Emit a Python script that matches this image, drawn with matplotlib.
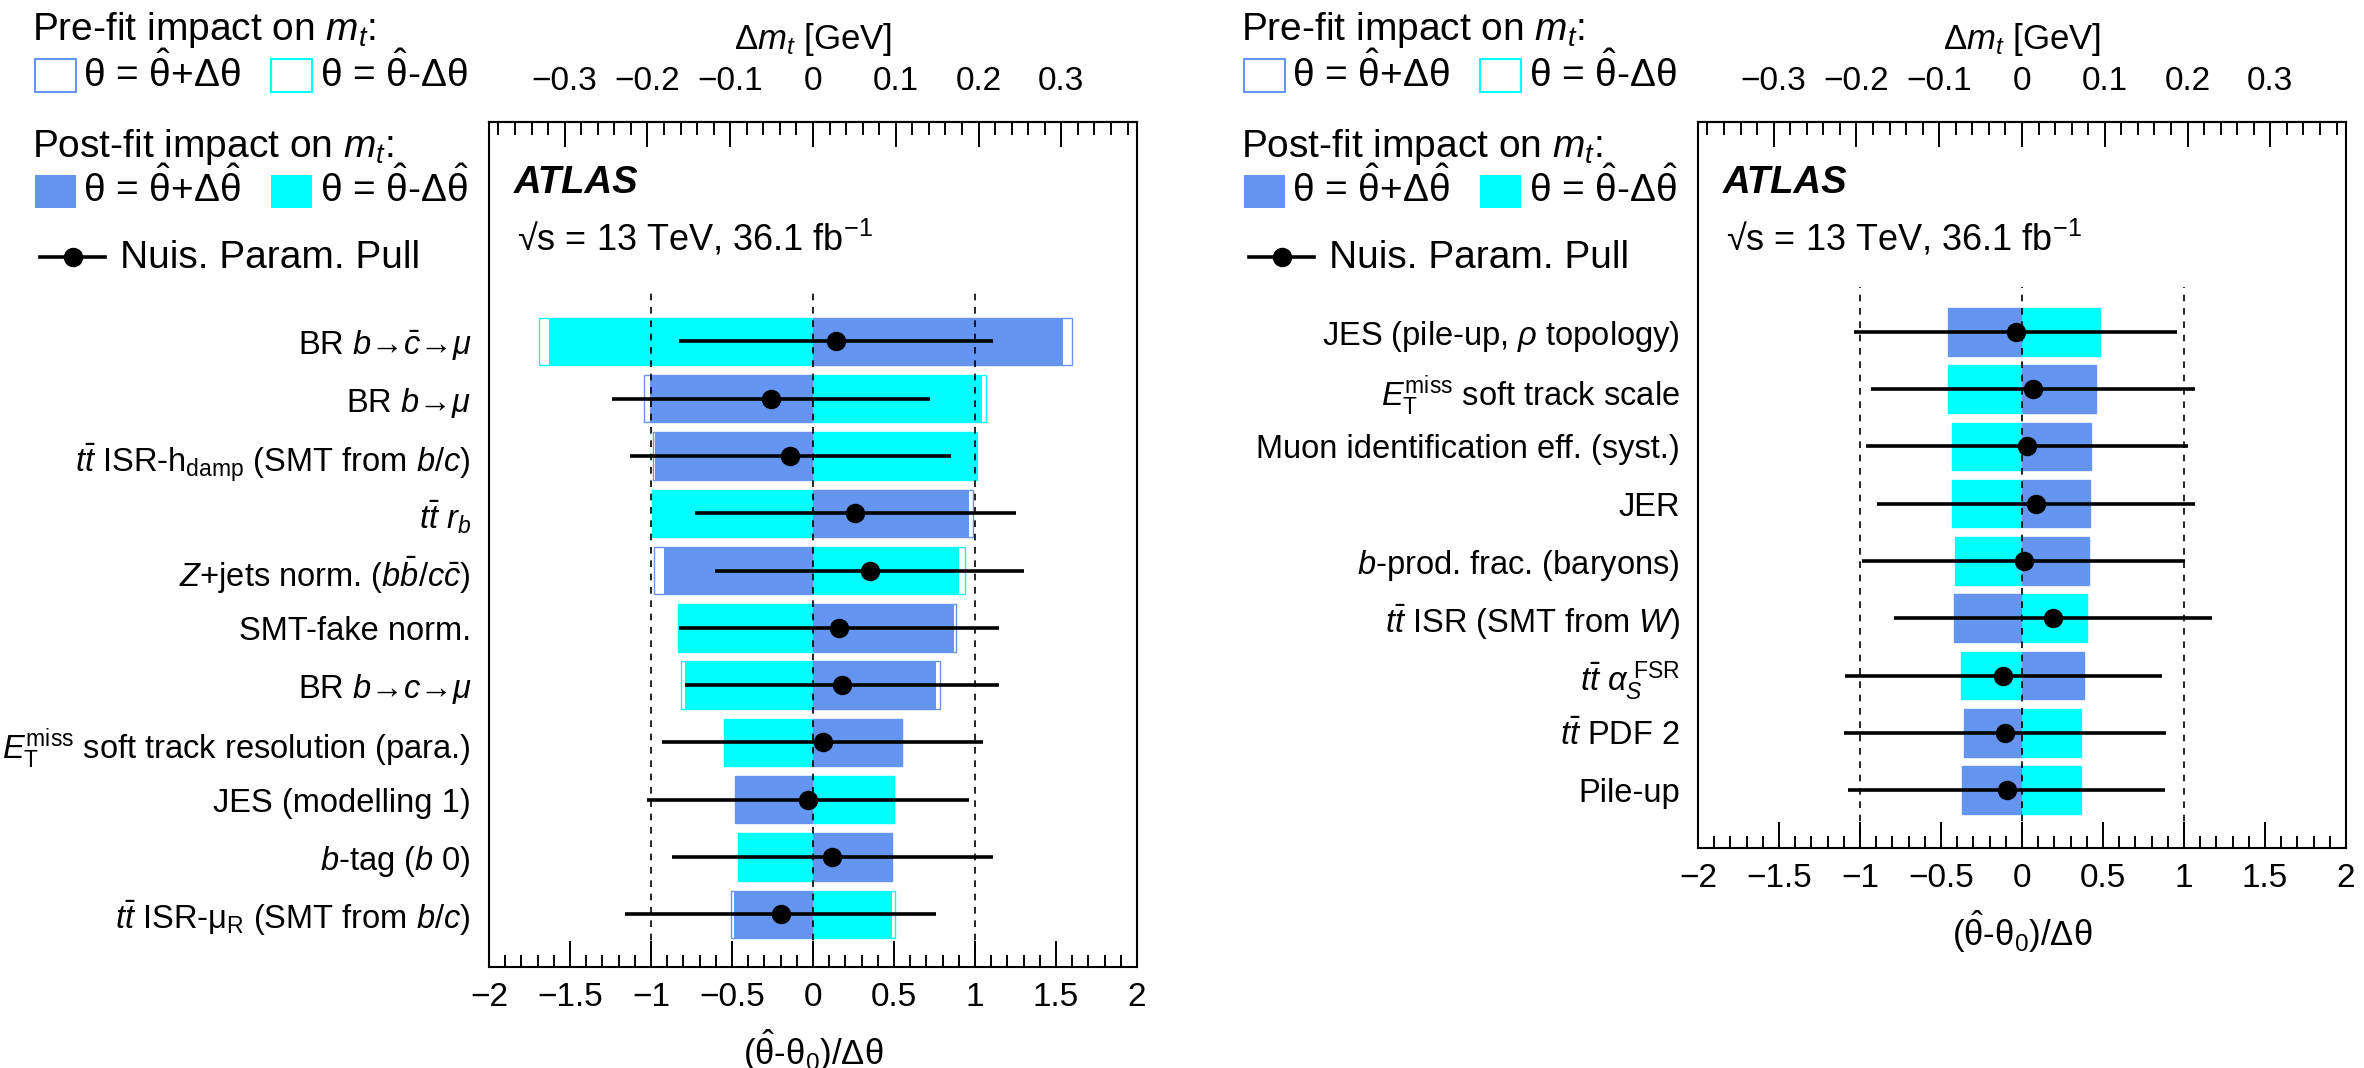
import numpy as np
import matplotlib
matplotlib.use('Agg')
import matplotlib.pyplot as plt
from matplotlib.patches import Rectangle
from matplotlib.ticker import MultipleLocator, FuncFormatter

plt.rcParams['font.family'] = ['Liberation Sans', 'DejaVu Sans']
plt.rcParams['mathtext.fontset'] = 'custom'
plt.rcParams['mathtext.rm'] = 'Liberation Sans'
plt.rcParams['mathtext.it'] = 'Liberation Sans:italic'
plt.rcParams['mathtext.bf'] = 'Liberation Sans:bold'
plt.rcParams['mathtext.sf'] = 'Liberation Sans'

BLUE = '#6495f0'
CYAN = '#00ffff'
GEV_PER_UNIT = 0.1957   # top axis (Delta m_t) vs bottom axis (pull)

# ---- left panel data (top to bottom) ----
L_LABELS = [
    r'BR $b$→$\bar{c}$→$\mu$',
    r'BR $b$→$\mu$',
    r'$t\bar{t}$ ISR-h$_{\mathrm{damp}}$ (SMT from $b/c$)',
    r'$t\bar{t}$ $r_b$',
    r'$Z$+jets norm. ($b\bar{b}/c\bar{c}$)',
    'SMT-fake norm.',
    r'BR $b$→$c$→$\mu$',
    r'$E_{\mathrm{T}}^{\mathrm{miss}}$ soft track resolution (para.)',
    'JES (modelling 1)',
    r'$b$-tag ($b$ 0)',
    r'$t\bar{t}$ ISR-μ$_{\mathrm{R}}$ (SMT from $b/c$)',
]
L_PULL = [0.14, -0.26, -0.14, 0.26, 0.35, 0.16, 0.18, 0.06, -0.03, 0.12, -0.20]
L_ERR = [0.97, 0.98, 0.99, 0.99, 0.955, 0.99, 0.97, 0.99, 0.995, 0.99, 0.96]
# impacts on m_t in GeV
L_POST_UP = [0.302, -0.197, -0.191, 0.189, -0.180, 0.170, 0.149, 0.108, -0.094, 0.096, -0.095]
L_POST_DN = [-0.319, 0.204, 0.198, -0.194, 0.176, -0.163, -0.155, -0.108, 0.098, -0.091, 0.095]
L_PRE_UP = [0.313, -0.204, -0.193, 0.193, -0.192, 0.173, 0.153, 0.108, -0.094, 0.096, -0.099]
L_PRE_DN = [-0.331, 0.209, 0.198, -0.194, 0.184, -0.163, -0.160, -0.108, 0.098, -0.091, 0.099]

# ---- right panel data (top to bottom) ----
R_LABELS = [
    r'JES (pile-up, $\rho$ topology)',
    r'$E_{\mathrm{T}}^{\mathrm{miss}}$ soft track scale',
    'Muon identification eff. (syst.)',
    'JER',
    r'$b$-prod. frac. (baryons)',
    r'$t\bar{t}$ ISR (SMT from $W$)',
    r'$t\bar{t}$ $\alpha_S^{\ \mathrm{FSR}}$',
    r'$t\bar{t}$ PDF 2',
    'Pile-up',
]
R_PULL = [-0.04, 0.07, 0.03, 0.085, 0.01, 0.19, -0.115, -0.105, -0.095]
R_ERR = [0.995, 1.0, 0.995, 0.98, 0.995, 0.98, 0.98, 0.995, 0.98]
R_POST_UP = [-0.089, 0.089, 0.083, 0.082, 0.081, -0.082, 0.075, -0.070, -0.072]
R_POST_DN = [0.094, -0.089, -0.084, -0.085, -0.081, 0.079, -0.074, 0.071, 0.071]
R_PRE_UP = R_POST_UP
R_PRE_DN = R_POST_DN

W, H = 2364, 1068
fig = plt.figure(figsize=(W / 100, H / 100), dpi=100)


def fmt(v, pos):
    if abs(v) < 1e-9:
        return '0'
    return ('%g' % round(v, 3)).replace('-', '\u2212')


def draw_panel(left_px, top_px, bottom_px, labels, post_up, post_dn, pre_up, pre_dn,
               pulls, errs, ylim):
    ax = fig.add_axes([left_px / W, (H - bottom_px) / H, 648 / W, (bottom_px - top_px) / H])
    n = len(labels)
    y = np.arange(n)[::-1]
    to_u = lambda g: np.asarray(g) / GEV_PER_UNIT
    bh = 0.83
    ax.barh(y, to_u(pre_up), height=bh, color='white', edgecolor=BLUE, lw=1.0, zorder=1)
    ax.barh(y, to_u(pre_dn), height=bh, color='white', edgecolor=CYAN, lw=1.0, zorder=1)
    ax.barh(y, to_u(post_up), height=bh, color=BLUE, lw=0, zorder=2)
    ax.barh(y, to_u(post_dn), height=bh, color=CYAN, lw=0, zorder=2)
    ax.vlines([-1, 0, 1], ylim[0], ylim[1] - 2.88, colors='k',
              linestyles=(0, (4, 4)), lw=1.2, zorder=3)
    ax.errorbar(pulls, y, xerr=errs, fmt='o', color='k', ms=13,
                elinewidth=2.6, capsize=0, zorder=4)
    ax.set_xlim(-2, 2)
    ax.set_ylim(*ylim)

    ax.set_yticks(y)
    ax.set_yticklabels(labels, fontsize=23.5)
    ax.tick_params(axis='y', length=0, pad=13)

    ax.xaxis.set_major_locator(MultipleLocator(0.5))
    ax.xaxis.set_minor_locator(MultipleLocator(0.1))
    ax.xaxis.set_major_formatter(FuncFormatter(fmt))
    ax.tick_params(axis='x', which='both', direction='in', top=False, width=1.4,
                   labelsize=24, pad=11)
    ax.tick_params(axis='x', which='major', length=18.7)
    ax.tick_params(axis='x', which='minor', length=9)
    ax.set_xlabel(r'($\hat{\mathrm{\theta}}$-$\mathrm{\theta}_0$)/$\Delta\mathrm{\theta}$',
                  fontsize=25, labelpad=10)

    sec = ax.secondary_xaxis('top', functions=(lambda u: u * GEV_PER_UNIT,
                                                lambda g: g / GEV_PER_UNIT))
    sec.xaxis.set_major_locator(MultipleLocator(0.1))
    sec.xaxis.set_minor_locator(MultipleLocator(0.02))
    sec.xaxis.set_major_formatter(FuncFormatter(fmt))
    sec.tick_params(which='both', direction='in', width=1.4, labelsize=24, pad=18)
    sec.tick_params(which='major', length=18)
    sec.tick_params(which='minor', length=9.4)
    sec.set_xlabel(r'$\Delta m_t$ [GeV]', fontsize=25, labelpad=12)
    sec.spines['top'].set_linewidth(1.5)

    for s in ax.spines.values():
        s.set_linewidth(1.5)

    ax.annotate('ATLAS', xy=(0, 1), xycoords='axes fraction', xytext=(17.6, -44),
                textcoords='offset points', fontsize=27.5, fontweight='bold',
                fontstyle='italic', va='center')
    ax.annotate(r'√s = 13 TeV, 36.1 fb$^{-1}$', xy=(0, 1), xycoords='axes fraction',
                xytext=(20.5, -83.5), textcoords='offset points', fontsize=26,
                va='center')
    return ax


draw_panel(489, 122, 967, L_LABELS, L_POST_UP, L_POST_DN, L_PRE_UP, L_PRE_DN,
           L_PULL, L_ERR, (-0.92, 13.83))
draw_panel(1698, 122, 848, R_LABELS, R_POST_UP, R_POST_DN, R_PRE_UP, R_PRE_DN,
           R_PULL, R_ERR, (-1.01, 11.66))

# legend block, drawn in figure pixel coordinates
ov = fig.add_axes([0, 0, 1, 1])
ov.set_xlim(0, W)
ov.set_ylim(H, 0)
ov.axis('off')


def draw_key(x0):
    fs = 28
    ov.text(x0 + 32, 40, r'Pre-fit impact on $m_t$:', fontsize=fs, va='baseline')
    ov.add_patch(Rectangle((x0 + 35, 59), 41, 33, facecolor='white', edgecolor=BLUE, lw=1.5))
    ov.text(x0 + 83, 87, r'θ = $\hat{\mathrm{\theta}}$+Δθ', fontsize=fs, va='baseline')
    ov.add_patch(Rectangle((x0 + 271, 59), 41, 33, facecolor='white', edgecolor=CYAN, lw=1.5))
    ov.text(x0 + 320, 87, r'θ = $\hat{\mathrm{\theta}}$-Δθ', fontsize=fs, va='baseline')

    ov.text(x0 + 32, 157, r'Post-fit impact on $m_t$:', fontsize=fs, va='baseline')
    ov.add_patch(Rectangle((x0 + 35, 175), 41, 33, facecolor=BLUE, edgecolor='none'))
    ov.text(x0 + 83, 202, r'θ = $\hat{\mathrm{\theta}}$+Δ$\hat{\mathrm{\theta}}$',
            fontsize=fs, va='baseline')
    ov.add_patch(Rectangle((x0 + 271, 175), 41, 33, facecolor=CYAN, edgecolor='none'))
    ov.text(x0 + 320, 202, r'θ = $\hat{\mathrm{\theta}}$-Δ$\hat{\mathrm{\theta}}$',
            fontsize=fs, va='baseline')

    ov.plot([x0 + 40, x0 + 105], [257, 257], color='k', lw=2.6)
    ov.plot([x0 + 73], [257], 'o', color='k', ms=13)
    ov.text(x0 + 120, 268, 'Nuis. Param. Pull', fontsize=fs, va='baseline')


draw_key(0)
draw_key(1209)

fig.savefig('out.png', dpi=100)
